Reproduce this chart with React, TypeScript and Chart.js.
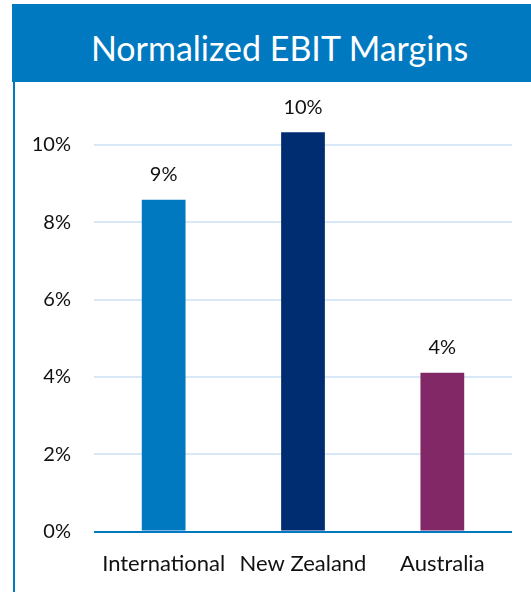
import React, { useEffect, useRef } from "react";
import { Chart, registerables } from "chart.js";

Chart.register(...registerables);

const titleText = "Normalized EBIT Margins";
const categories = ["International", "New Zealand", "Australia"];
const margins = [0.0858, 0.1033, 0.0411];
const barColors = ["#0079C1", "#002D72", "#832866"];
const yTicks = [0, 0.02, 0.04, 0.06, 0.08, 0.1];
const yMax = 0.11;

const FONT = "Lato, 'Open Sans', sans-serif";

const dataLabelPlugin = {
  id: "dataLabels",
  afterDatasetsDraw(chart: any) {
    const ctx = chart.ctx;
    const meta = chart.getDatasetMeta(0);
    ctx.save();
    ctx.font = `20px ${FONT}`;
    ctx.fillStyle = "#111111";
    ctx.textAlign = "center";
    ctx.textBaseline = "middle";
    meta.data.forEach((bar: any, i: number) => {
      const v = chart.data.datasets[0].data[i] as number;
      ctx.fillText(Math.round(v * 100) + "%", bar.x, bar.y - 25);
    });
    ctx.restore();
  },
};

export default function App() {
  const ref = useRef<HTMLCanvasElement | null>(null);

  useEffect(() => {
    if (!ref.current) return;
    const chart = new Chart(ref.current, {
      type: "bar",
      data: {
        labels: categories,
        datasets: [
          {
            data: margins,
            backgroundColor: barColors,
            categoryPercentage: 1,
            barPercentage: 0.314,
          },
        ],
      },
      options: {
        animation: false,
        responsive: false,
        maintainAspectRatio: false,
        layout: { padding: { left: 0, right: 19, top: 24.3, bottom: 0 } },
        plugins: {
          legend: { display: false },
          tooltip: { enabled: false },
          title: { display: false },
        },
        scales: {
          x: {
            grid: { display: false, drawTicks: false },
            border: { display: false },
            ticks: {
              color: "#111111",
              font: { family: FONT, size: 22 },
              padding: 19,
              maxRotation: 0,
              autoSkip: false,
            },
            afterFit: (scale: any) => {
              scale.height = 60.5;
              scale.paddingLeft = 0;
              scale.paddingRight = 0;
            },
          },
          y: {
            min: 0,
            max: yMax,
            afterBuildTicks: (scale: any) => {
              scale.ticks = yTicks.map((v) => ({ value: v }));
            },
            afterFit: (scale: any) => {
              scale.width = 94;
              scale.paddingTop = 0;
              scale.paddingBottom = 0;
            },
            grid: {
              drawTicks: false,
              lineWidth: 2,
              color: (c: any) => (c.tick && c.tick.value === 0 ? "#0079C1" : "#D8E8F6"),
            },
            border: { display: false },
            ticks: {
              color: "#111111",
              font: { family: FONT, size: 20 },
              padding: 23,
              callback: (v: any) => Math.round(Number(v) * 100) + "%",
            },
          },
        },
      },
      plugins: [dataLabelPlugin],
    });
    return () => chart.destroy();
  }, []);

  return (
    <div>
      <div
        style={{
          position: "absolute",
          left: 12,
          top: 4,
          width: 519,
          height: 78,
          background: "#0079C1",
          color: "#ffffff",
          fontFamily: FONT,
          fontSize: 34,
          display: "flex",
          alignItems: "center",
          justifyContent: "center",
          boxSizing: "border-box",
          paddingTop: 8,
          paddingLeft: 16,
          whiteSpace: "nowrap",
        }}
      >
        {titleText}
      </div>
      <div
        style={{
          position: "absolute",
          left: 13,
          top: 82,
          width: 2,
          height: 510,
          background: "#0079C1",
        }}
      />
      <canvas
        ref={ref}
        width={531}
        height={510}
        style={{ position: "absolute", left: 0, top: 82, width: 531, height: 510 }}
      />
    </div>
  );
}
